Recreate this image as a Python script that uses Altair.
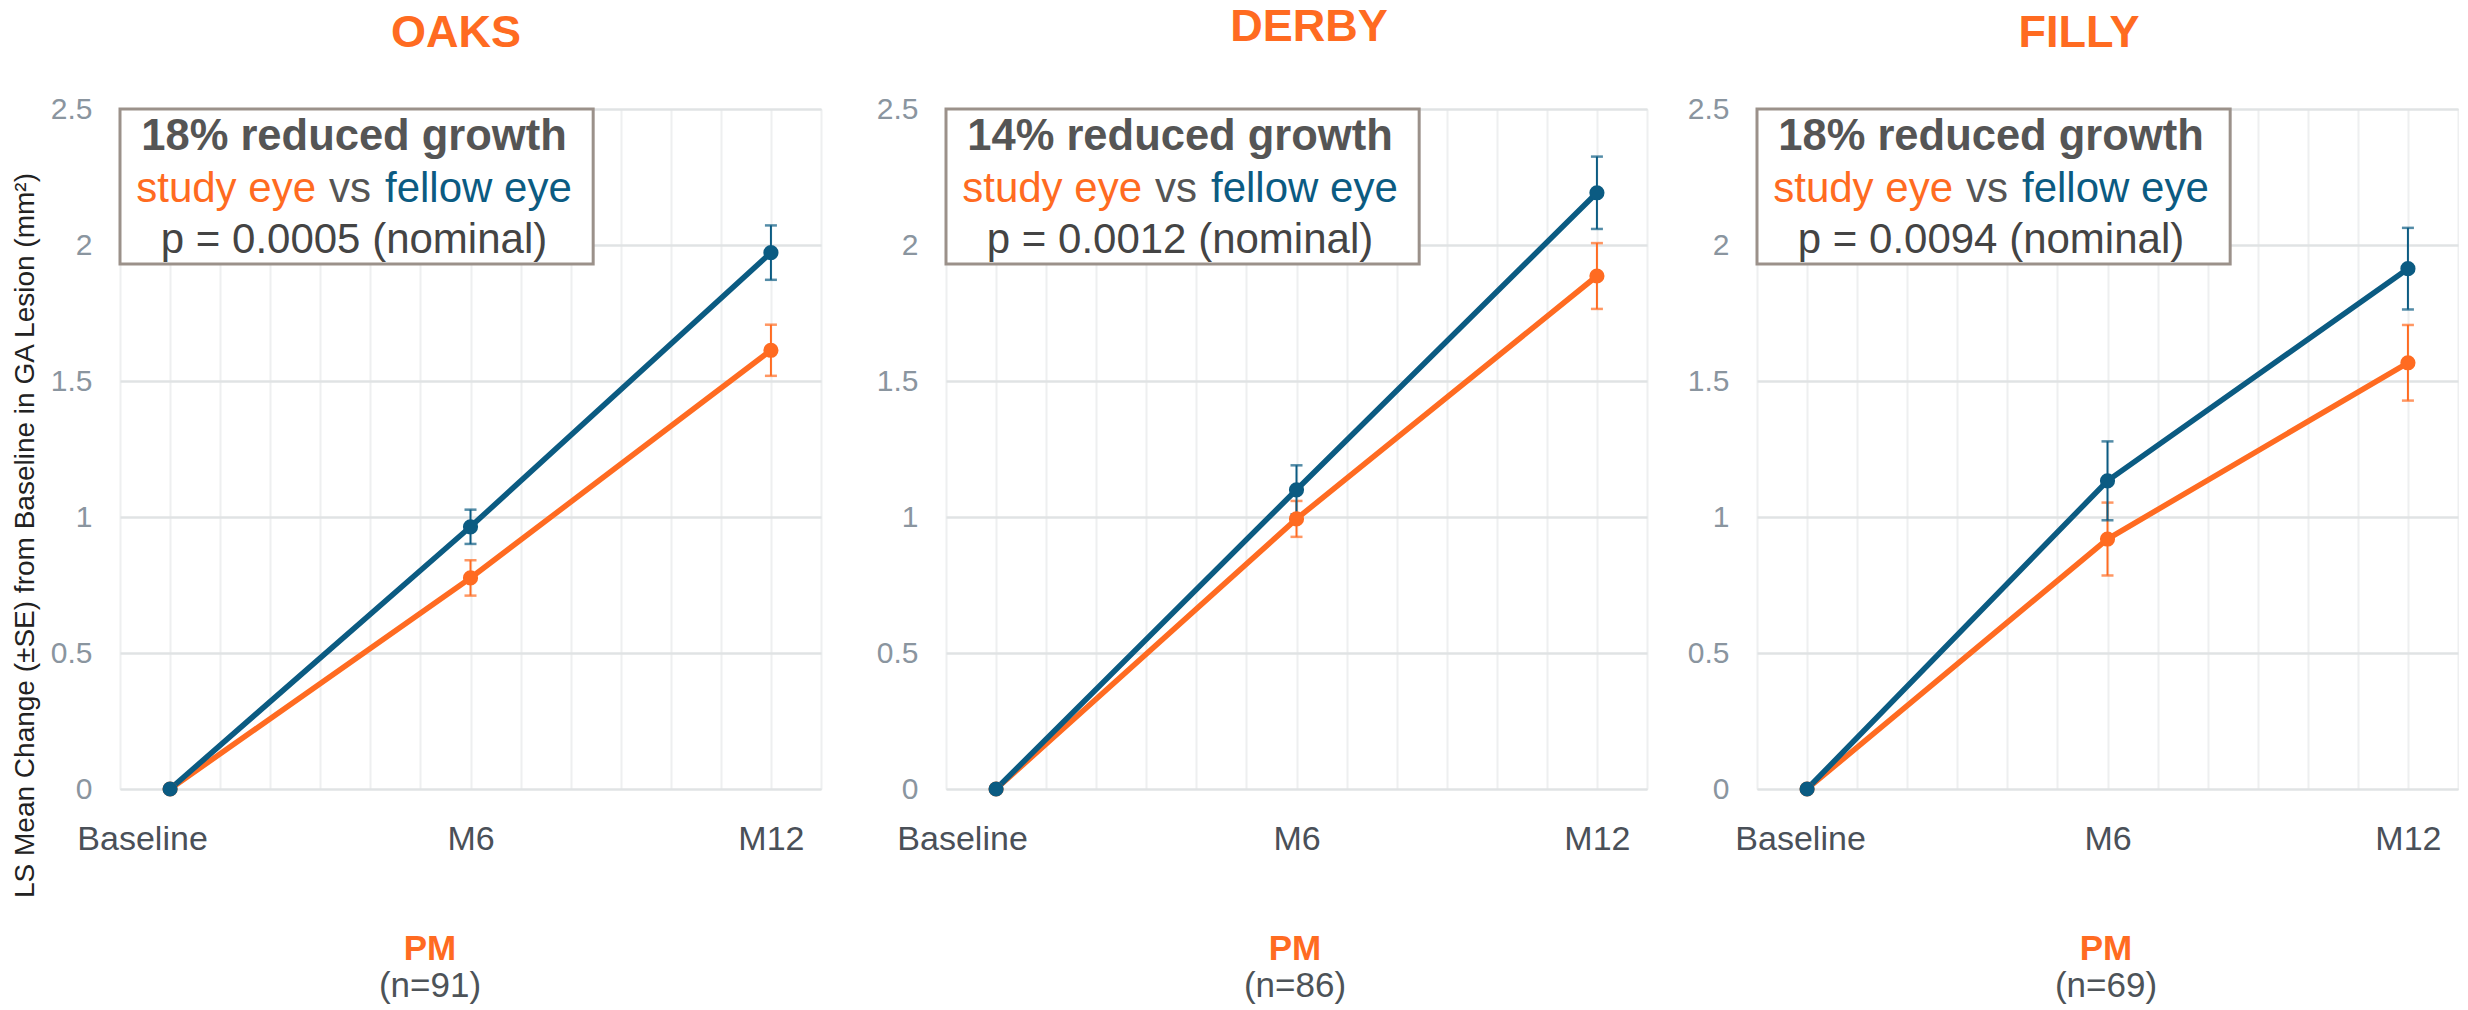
import altair as alt
import pandas as pd

# ---------------- data ----------------
months = [0, 6, 12]
tick_names = ["Baseline", "M6", "M12"]
studies = ["OAKS", "DERBY", "FILLY"]
n_values = [91, 86, 69]
reductions = ["18%", "14%", "18%"]
p_values = ["0.0005", "0.0012", "0.0094"]

study_eye = {"OAKS": [0, 0.776, 1.613], "DERBY": [0, 0.993, 1.886], "FILLY": [0, 0.919, 1.567]}
study_se = {"OAKS": [0, 0.065, 0.094], "DERBY": [0, 0.066, 0.121], "FILLY": [0, 0.134, 0.139]}
fellow_eye = {"OAKS": [0, 0.964, 1.972], "DERBY": [0, 1.100, 2.192], "FILLY": [0, 1.133, 1.913]}
fellow_se = {"OAKS": [0, 0.063, 0.100], "DERBY": [0, 0.090, 0.133], "FILLY": [0, 0.145, 0.150]}

# ---------------- style ----------------
ORANGE = "#ff6b21"
BLUE = "#0b5b82"
FONT = "Liberation Sans"
W, H = 701, 680

title_x = [336, 363, 322]
title_y = [-62, -68, -62]
pm_x = [310, 349, 349]
base_offset = [-28, -34, -7]

label_map = "{" + ", ".join(f"'{m}': '{t}'" for m, t in zip(months, tick_names)) + "}"
label_expr = f"{label_map}[datum.value] || ''"


def panel(i):
    s = studies[i]
    rows = []
    for series, vals, ses in (("study", study_eye[s], study_se[s]), ("fellow", fellow_eye[s], fellow_se[s])):
        for m, v, e in zip(months, vals, ses):
            rows.append({"month": m, "value": v, "lo": v - e, "hi": v + e, "series": series, "se": e})
    df = pd.DataFrame(rows)
    base = alt.Chart(df)

    x_axis = alt.Axis(
        values=list(range(-1, 14)), labelExpr=label_expr, grid=True, gridColor="#eeeff0",
        gridWidth=2, ticks=False, domain=False, labelFontSize=34, labelFont=FONT,
        labelColor="#4a5058", labelPadding=33, labelOverlap=False, labelFlush=False,
        labelOffset={"condition": {"test": "datum.value === 0", "value": base_offset[i]}, "value": 0},
        title=None,
    )
    y_kwargs = dict(
        values=[0, 0.5, 1, 1.5, 2, 2.5], format="~g", grid=True, gridColor="#e0e3e4", gridWidth=2.5,
        ticks=False, domain=False, labelFontSize=30, labelFont=FONT, labelColor="#8a959f",
        labelPadding=28,
    )
    if i == 0:
        y_axis = alt.Axis(title="LS Mean Change (±SE) from Baseline in GA Lesion (mm²)",
                          titleFontSize=28, titleFont=FONT, titleFontWeight="normal",
                          titleColor="#222222", titlePadding=11, titleY=426, **y_kwargs)
    else:
        y_axis = alt.Axis(title=None, **y_kwargs)

    X = alt.X("month:Q", scale=alt.Scale(domain=[-1, 13], nice=False, zero=False), axis=x_axis)
    Y = alt.Y("value:Q", scale=alt.Scale(domain=[0, 2.5], nice=False), axis=y_axis)

    # annotation box
    box_df = pd.DataFrame({"x": [-1], "x2": [8.45], "y": [2.5], "y2": [1.93]})
    box = alt.Chart(box_df).mark_rect(fill="white", stroke="#9b918a", strokeWidth=3).encode(
        x=alt.X("x:Q"), x2="x2:Q", y=alt.Y("y:Q"), y2="y2:Q")

    def txt(text, x, y, color, size=42, weight="normal", align="center", baseline="middle"):
        return alt.Chart(pd.DataFrame({"t": [text]})).mark_text(
            font=FONT, fontSize=size, fontWeight=weight, color=color, align=align, baseline=baseline,
        ).encode(text="t:N", x=alt.value(x), y=alt.value(y))

    texts = [
        txt(f"{reductions[i]} reduced growth", 234, 28, "#555555", size=43.5, weight="bold"),
        txt("study eye", 196, 80, ORANGE, align="right"),
        txt("vs", 230, 80, "#555555"),
        txt("fellow eye", 265, 80, BLUE, align="left"),
        txt(f"p = {p_values[i]} (nominal)", 234, 131, "#444444"),
        txt(studies[i], title_x[i], title_y[i], ORANGE, size=45, weight="bold", baseline="alphabetic"),
        txt("PM", pm_x[i], 851, ORANGE, size=35, weight="bold", baseline="alphabetic"),
        txt(f"(n={n_values[i]})", pm_x[i], 888, "#4d5358", size=35, baseline="alphabetic"),
    ]

    layers = [box] + texts
    for series, color in (("study", ORANGE), ("fellow", BLUE)):
        d = base.transform_filter(alt.datum.series == series)
        err = d.transform_filter(alt.datum.se > 0)
        layers.append(err.mark_rule(color=color, strokeWidth=2).encode(x=X, y=alt.Y("lo:Q"), y2="hi:Q"))
        layers.append(err.mark_tick(color=color, orient="horizontal", size=12, thickness=2.5).encode(x=X, y=alt.Y("lo:Q")))
        layers.append(err.mark_tick(color=color, orient="horizontal", size=12, thickness=2.5).encode(x=X, y=alt.Y("hi:Q")))
    for series, color in (("study", ORANGE), ("fellow", BLUE)):
        d = base.transform_filter(alt.datum.series == series)
        layers.append(d.mark_line(color=color, strokeWidth=5.5).encode(x=X, y=Y))
    for series, color in (("study", ORANGE), ("fellow", BLUE)):
        d = base.transform_filter(alt.datum.series == series)
        layers.append(d.mark_circle(color=color, size=230, opacity=1).encode(x=X, y=Y))

    main = base.mark_point(opacity=0).encode(x=X, y=Y)
    return alt.layer(main, *layers).properties(width=W, height=H)


p1, p2, p3 = panel(0), panel(1), panel(2)
chart = alt.hconcat(alt.hconcat(p1, p2, spacing=53), p3, spacing=38).properties(
    padding={"left": 2, "top": -4, "right": 0, "bottom": 0}
).configure_view(stroke=None).configure(background="white")

chart.save("out.html", embed_options={"renderer": "svg", "actions": False})
